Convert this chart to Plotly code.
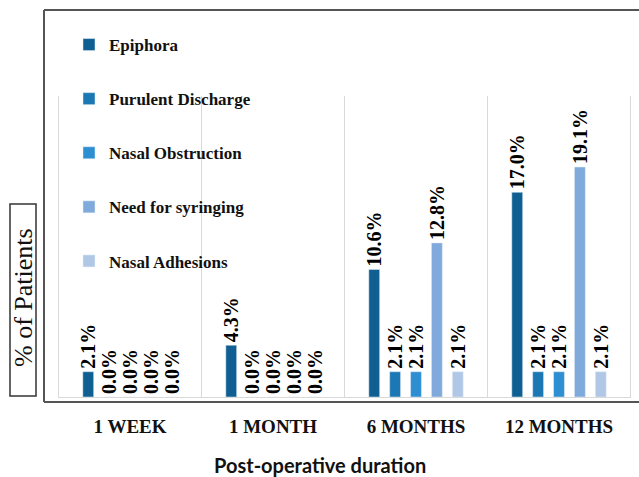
import plotly.graph_objects as go

categories = ["1 WEEK", "1 MONTH", "6 MONTHS", "12 MONTHS"]
series_names = ["Epiphora", "Purulent Discharge", "Nasal Obstruction", "Need for syringing", "Nasal Adhesions"]
epiphora = [2.1, 4.3, 10.6, 17.0]
purulent = [0.0, 0.0, 2.1, 2.1]
obstruction = [0.0, 0.0, 2.1, 2.1]
syringing = [0.0, 0.0, 12.8, 19.1]
adhesions = [0.0, 0.0, 2.1, 2.1]
series_values = [epiphora, purulent, obstruction, syringing, adhesions]
colors = ["#0F5F93", "#1C78B5", "#2D8FD2", "#7FAADB", "#B0C8E6"]

serif = "Liberation Serif"
fig = go.Figure()
for i, (name, vals) in enumerate(zip(series_names, series_values)):
    fig.add_trace(go.Bar(
        x=categories, y=vals, name=name, marker_color=colors[i],
        text=[f"<b>{v:.1f}%</b>" for v in vals], textposition="outside", textangle=-90,
        constraintext="none", cliponaxis=False,
        textfont=dict(family=serif, size=20, color="#000000", weight=700),
        legendgroup=name,
    ))

W, H = 639, 477
L, R, T, B = 58, 8, 96, 80
pw, ph = W - L - R, H - T - B

def px(x):
    return (x - L) / pw

def py(y):
    return (H - B - y) / ph

shapes = []
for xb in [-0.5, 0.5, 1.5, 2.5, 3.5]:
    shapes.append(dict(type="line", xref="x", yref="paper", x0=xb, x1=xb, y0=0, y1=1,
                       line=dict(color="#D9D9D9", width=1), layer="below"))
frame = dict(color="#555555", width=2)
shapes.append(dict(type="line", xref="paper", yref="paper", x0=px(44), x1=px(660), y0=py(10), y1=py(10), line=frame))
shapes.append(dict(type="line", xref="paper", yref="paper", x0=px(44), x1=px(44), y0=py(10), y1=py(402), line=frame))
shapes.append(dict(type="line", xref="paper", yref="paper", x0=px(44), x1=px(660), y0=py(402), y1=py(402), line=frame))
shapes.append(dict(type="rect", xref="paper", yref="paper", x0=px(10), x1=px(36), y0=py(204), y1=py(396),
                   line=dict(color="#333333", width=1.5)))

fig.update_layout(
    width=W, height=H,
    margin=dict(l=L, r=R, t=T, b=B),
    plot_bgcolor="white", paper_bgcolor="white",
    barmode="group", bargap=0.27, bargroupgap=0.48,
    shapes=shapes,
    showlegend=True,
    legend=dict(x=px(69), y=py(27), xanchor="left", yanchor="top",
                font=dict(family=serif, size=17, color="#111111", weight="bold"),
                tracegroupgap=29, bgcolor="rgba(0,0,0,0)", itemwidth=30, maxheight=700),
    xaxis=dict(showgrid=False, showline=True, linecolor="#D9D9D9", linewidth=1,
               tickfont=dict(family=serif, size=19, color="#111111", weight="bold"),
               ticks="", ticklabelstandoff=12),
    yaxis=dict(range=[0, 25], visible=False, showgrid=False),
    annotations=[
        dict(text="Post-operative duration", xref="paper", yref="paper", x=px(320), y=py(465),
             xanchor="center", yanchor="middle",
             showarrow=False, font=dict(family="Lato", size=20, color="#111111", weight="bold")),
        dict(text="% of Patients", xref="paper", yref="paper", x=px(23), y=py(298), textangle=-90,
             xanchor="center", yanchor="middle",
             showarrow=False, font=dict(family=serif, size=26, color="#111111")),
    ],
)
fig.write_html("out.html", config={"displayModeBar": False},
               post_script="document.body.style.margin='0';")
